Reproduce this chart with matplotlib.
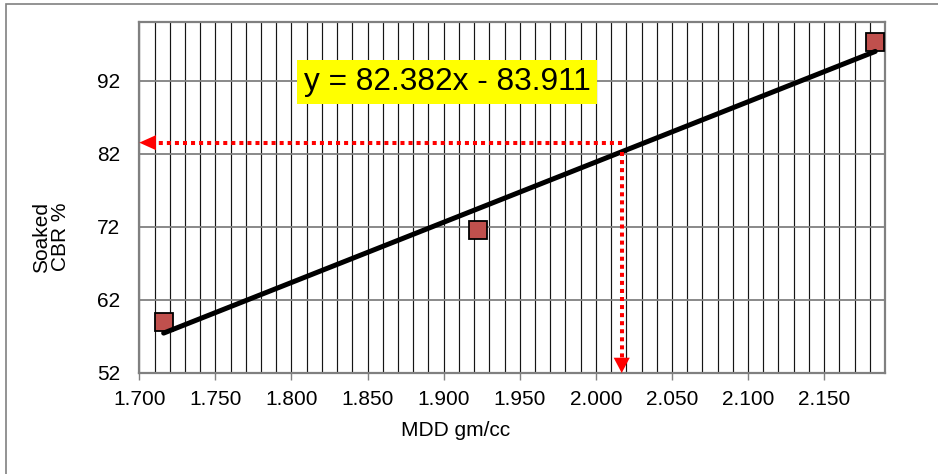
import numpy as np
import matplotlib
matplotlib.use("Agg")
import matplotlib.pyplot as plt
from matplotlib.patches import Rectangle

plt.rcParams['font.family'] = ['Liberation Sans', 'DejaVu Sans']

# ---- data ----
mdd = [1.716, 1.9225, 2.1836]
cbr = [59.0, 71.6, 97.3]
slope = 82.382
intercept = -83.911
equation_label = "y = 82.382x - 83.911"
read_mdd = 2.017          # design MDD read on the chart
read_cbr_level = 83.5     # horizontal read-off line level
x_ticks = [1.700, 1.750, 1.800, 1.850, 1.900, 1.950, 2.000, 2.050, 2.100, 2.150]
x_tick_labels = ["1.700", "1.750", "1.800", "1.850", "1.900", "1.950",
                 "2.000", "2.050", "2.100", "2.150"]
y_ticks = [52, 62, 72, 82, 92]
y_tick_labels = ["52", "62", "72", "82", "92"]
x_label = "MDD gm/cc"
y_label = "Soaked\nCBR %"

W, H = 938, 474
fig = plt.figure(figsize=(W / 100, H / 100), dpi=100)
ax = fig.add_axes([139.3 / W, 1 - 373 / H, (885 - 139.3) / W, (373 - 22) / H])

ax.set_xlim(1.700, 2.190)
ax.set_ylim(52, 100)

# grid
ax.set_xticks(x_ticks)
ax.set_xticklabels(x_tick_labels)
ax.set_xticks(np.arange(1.71, 2.185, 0.01), minor=True)
ax.set_yticks(y_ticks)
ax.set_yticklabels(y_tick_labels)
ax.grid(True, axis='x', which='both', color='#151515', lw=0.85, zorder=0)
ax.grid(True, axis='y', which='major', color='#808080', lw=1.3, zorder=0)
ax.set_axisbelow(True)

ax.tick_params(axis='x', which='major', length=5, width=1, color='#808080',
               labelsize=15, pad=7.5, direction='out')
ax.tick_params(axis='x', which='minor', length=0)
ax.tick_params(axis='y', which='major', length=0, labelsize=15, pad=14)
for sp in ax.spines.values():
    sp.set_color('#808080')
    sp.set_linewidth(1.6)

# trend line
tx = np.array([min(mdd), max(mdd)])
ax.plot(tx, slope * tx + intercept, color='black', lw=3.6,
        solid_capstyle='round', zorder=4)

# data points
ax.plot(mdd, cbr, linestyle='none', marker='s', markersize=13,
        markerfacecolor='#C0504D', markeredgecolor='black',
        markeredgewidth=1.3, zorder=3)

# read-off lines
read_cbr_on_line = slope * read_mdd + intercept
ax.plot([read_mdd, 1.700 + 0.008], [read_cbr_level, read_cbr_level],
        color='red', lw=2.9, linestyle=(0, (1, 1)), zorder=5)
ax.plot([read_mdd, read_mdd], [read_cbr_on_line, 52 + 1.5],
        color='red', lw=2.9, linestyle=(0, (1, 1)), zorder=5)
ax.annotate('', xy=(1.700, read_cbr_level), xytext=(17, 0),
            textcoords='offset pixels',
            arrowprops=dict(arrowstyle='-|>,head_length=12,head_width=5.4',
                            mutation_scale=1, fc='red', ec='red', lw=0,
                            shrinkA=0, shrinkB=0), zorder=6)
ax.annotate('', xy=(read_mdd, 52), xytext=(0, 16),
            textcoords='offset pixels',
            arrowprops=dict(arrowstyle='-|>,head_length=11,head_width=5.8',
                            mutation_scale=1, fc='red', ec='red', lw=0,
                            shrinkA=0, shrinkB=0), zorder=6)

# equation label
ax.text(0.4126, 0.829, equation_label, transform=ax.transAxes,
        ha='center', va='center', fontsize=22.8, zorder=7,
        bbox=dict(boxstyle='square,pad=0.22', fc='#FFFF00', ec='none'))

# axis labels
ax.set_xlabel(x_label, fontsize=15)
ax.xaxis.set_label_coords(0.4247, -0.137)
ax.set_ylabel(y_label, fontsize=15, linespacing=1.0)
ax.yaxis.set_label_coords(-0.093, 0.387)

# outer chart frame
fig.patches.append(Rectangle((6 / W, -0.1), 2, 470 / H + 0.1,
                             transform=fig.transFigure, fill=False,
                             ec='#808080', lw=1.2))

fig.savefig('out.png', dpi=100)
